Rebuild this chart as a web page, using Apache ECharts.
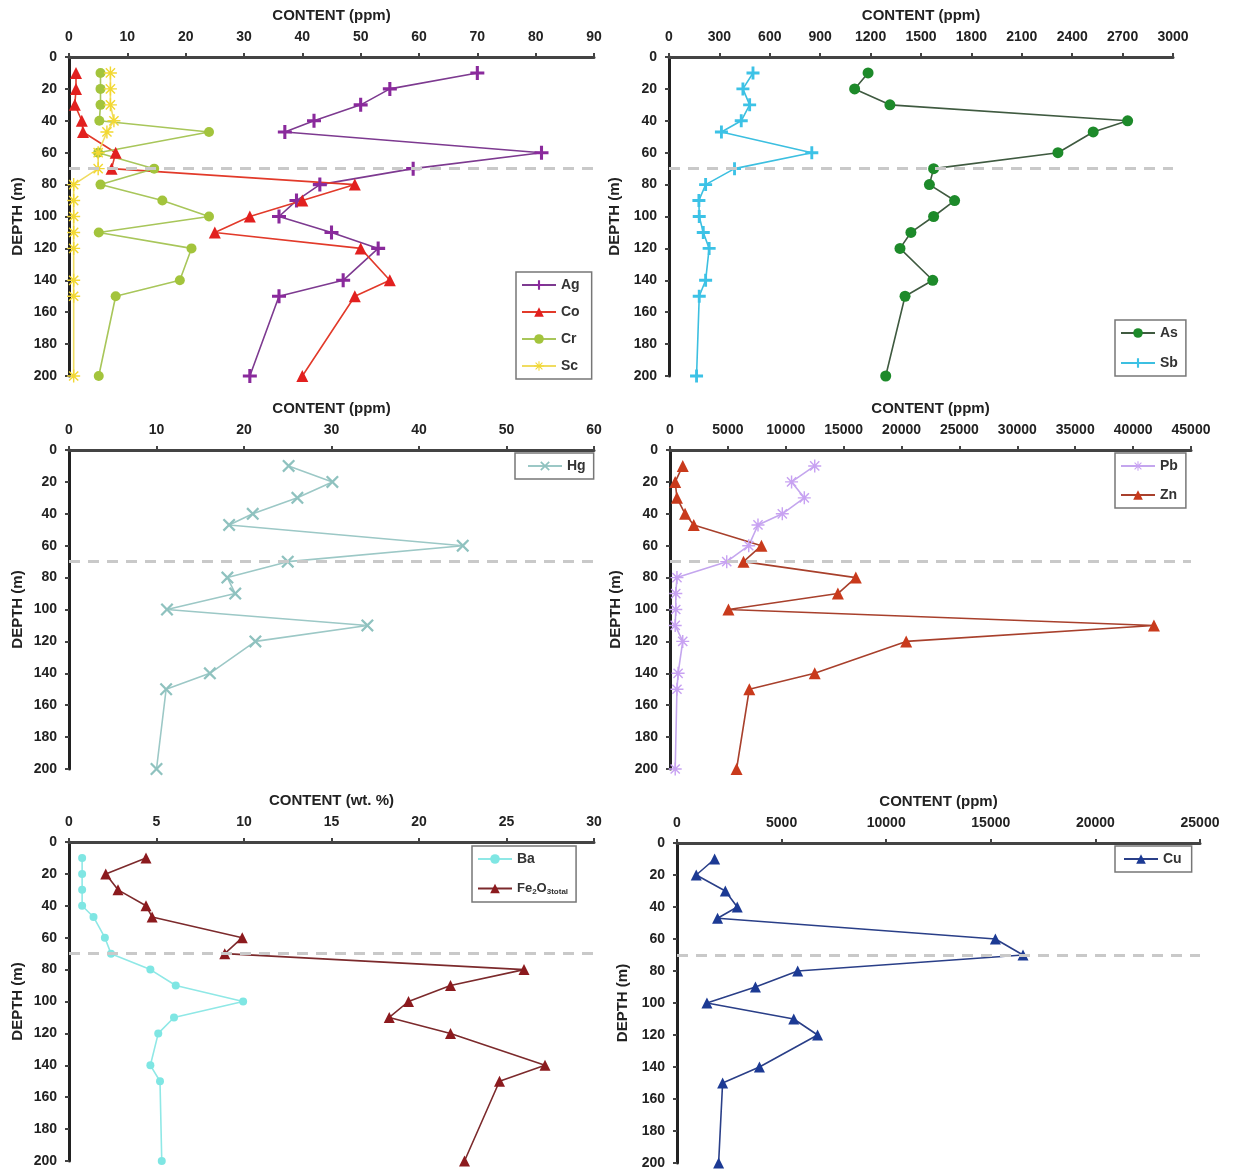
<!DOCTYPE html>
<html>
<head>
<meta charset="utf-8">
<script src="https://cdn.jsdelivr.net/npm/echarts@6/dist/echarts.min.js"></script>
<style>
html,body{margin:0;padding:0;background:#fff;}
#chart{width:1234px;height:1170px;}
</style>
</head>
<body>
<div id="chart"></div>
<script>
// ---- data (depth in m, content values) ----
const depths = [10, 20, 30, 40, 47, 60, 70, 80, 90, 100, 110, 120, 140, 150, 200];
const boundaryDepth = 70;

const ag = [70, 55, 50, 42, 37, 81, 59, 43, 39, 36, 45, 53, 47, 36, 31];
const co = [1.2, 1.2, 1, 2.2, 2.4, 8, 7.3, 49, 40, 31, 25, 50, 55, 49, 40];
const cr = [5.4, 5.4, 5.4, 5.2, 24, 5, 14.6, 5.4, 16, 24, 5.1, 21, 19, 8, 5.1];
const sc = [7.1, 7.1, 7.1, 7.7, 6.5, 5, 5, 0.8, 0.8, 0.8, 0.8, 0.8, 0.8, 0.8, 0.8];

const as = [1185, 1105, 1315, 2730, 2525, 2315, 1575, 1550, 1700, 1575, 1440, 1375, 1570, 1405, 1290];
const sb = [500, 440, 480, 430, 312, 850, 390, 218, 178, 180, 204, 239, 218, 180, 164];

const hg = [25.1, 30.1, 26.1, 21, 18.3, 45, 25, 18.1, 19, 11.2, 34.1, 21.3, 16.1, 11.1, 10];

const pb = [12500, 10500, 11600, 9700, 7600, 6800, 4900, 600, 500, 500, 450, 1100, 700, 600, 450];
const zn = [1100, 450, 600, 1300, 2050, 7900, 6350, 16050, 14500, 5050, 41800, 20400, 12500, 6850, 5750];

const ba = [0.75, 0.75, 0.75, 0.75, 1.4, 2.05, 2.4, 4.65, 6.1, 9.95, 6.0, 5.1, 4.65, 5.2, 5.3];
const fe = [4.4, 2.1, 2.8, 4.4, 4.75, 9.9, 8.9, 26, 21.8, 19.4, 18.3, 21.8, 27.2, 24.6, 22.6];

const cu = [1800, 920, 2310, 2880, 1940, 15220, 16540, 5770, 3750, 1430, 5580, 6720, 3940, 2180, 1990];

// axis ranges per panel: [max, interval]
const xRanges = [[90, 10], [3000, 300], [60, 10], [45000, 5000], [30, 5], [25000, 5000]];
const xTitles = ['CONTENT (ppm)', 'CONTENT (ppm)', 'CONTENT (ppm)', 'CONTENT (ppm)', 'CONTENT (wt. %)', 'CONTENT (ppm)'];
const depthMax = 200, depthStep = 20;

// ---- styling helpers ----
const FONT = "'Liberation Sans', Arial, sans-serif";
function starPath(arms, rotDeg, w, R) {
  const pts = [];
  const r = w / Math.sin(Math.PI / arms);
  for (let k = 0; k < arms; k++) {
    const a = (rotDeg + k * 360 / arms) * Math.PI / 180;
    const dx = Math.cos(a), dy = Math.sin(a);
    const px = -dy, py = dx;
    pts.push([R * dx - w * px, R * dy - w * py]);
    pts.push([R * dx + w * px, R * dy + w * py]);
    const b = a + Math.PI / arms;
    pts.push([r * Math.cos(b), r * Math.sin(b)]);
  }
  return 'path://' + pts.map((p, i) => (i ? 'L' : 'M') + p[0].toFixed(3) + ',' + p[1].toFixed(3)).join(' ') + ' Z';
}
const PLUS = starPath(4, 0, 1.1, 5);
const XMARK = starPath(4, 45, 0.7, 5);
const ASTER = starPath(8, 0, 0.55, 5);

const grids = [
  {left: 69, top: 57, width: 525, height: 319},
  {left: 669, top: 57, width: 504, height: 319},
  {left: 69, top: 450, width: 525, height: 319},
  {left: 670, top: 450, width: 521, height: 319},
  {left: 69, top: 842, width: 525, height: 319},
  {left: 677, top: 843, width: 523, height: 320}
];

const xAxes = grids.map((g, i) => ({
  type: 'value', gridIndex: i, position: 'top',
  min: 0, max: xRanges[i][0], interval: xRanges[i][1],
  name: xTitles[i], nameLocation: 'middle', nameGap: 34,
  nameTextStyle: {fontFamily: FONT, fontWeight: 'bold', fontSize: 15, color: '#222'},
  axisLine: {show: true, lineStyle: {color: '#444', width: 3}},
  axisTick: {show: true, length: 4, lineStyle: {color: '#444', width: 2}},
  axisLabel: {fontFamily: FONT, fontWeight: 'bold', fontSize: 14, color: '#222', margin: 13,
    formatter: function (v) { return String(v); }},
  splitLine: {show: false}
}));
const yAxes = grids.map((g, i) => ({
  type: 'value', gridIndex: i, inverse: true,
  min: 0, max: depthMax, interval: depthStep,
  name: 'DEPTH (m)', nameLocation: 'middle', nameRotate: 90, nameGap: (i % 2 ? 47 : 44),
  nameTextStyle: {fontFamily: FONT, fontWeight: 'bold', fontSize: 15, color: '#222'},
  axisLine: {show: true, onZero: false, lineStyle: {color: '#222', width: 3}},
  axisTick: {show: true, length: 4, lineStyle: {color: '#444', width: 2}},
  axisLabel: {fontFamily: FONT, fontWeight: 'bold', fontSize: 14, color: '#222', margin: 12},
  splitLine: {show: false}
}));

function pairs(vals) { return vals.map((v, k) => [v, depths[k]]); }
function mk(name, vals, idx, color, lineColor, symbol, size, extra) {
  return Object.assign({
    name: name, type: 'line', xAxisIndex: idx, yAxisIndex: idx,
    data: pairs(vals), symbol: symbol, symbolSize: size, showSymbol: true,
    itemStyle: {color: color},
    lineStyle: {color: lineColor, width: 1.6},
    animation: false, z: 3
  }, extra || {});
}
function boundary() {
  return {
    silent: true, symbol: ['none', 'none'], label: {show: false},
    lineStyle: {color: '#c9c9c9', width: 3, type: [11, 8]},
    data: [{yAxis: boundaryDepth}]
  };
}

const series = [
  mk('Ag', ag, 0, '#8a2a9c', '#7d3a90', PLUS, 14, {markLine: boundary()}),
  mk('Co', co, 0, '#e2201f', '#e23a2a', 'triangle', 12),
  mk('Cr', cr, 0, '#a3c43c', '#a8c65a', 'circle', 10),
  mk('Sc', sc, 0, '#f2d832', '#f0dc60', ASTER, 13),
  mk('As', as, 1, '#1d8a2a', '#3f5a40', 'circle', 11, {markLine: boundary()}),
  mk('Sb', sb, 1, '#3cc2e6', '#3cbfe0', PLUS, 13),
  mk('Hg', hg, 2, '#8fc2bf', '#9cc8c6', XMARK, 13, {markLine: boundary()}),
  mk('Pb', pb, 3, '#c8a2f2', '#c4a6ee', ASTER, 13, {markLine: boundary()}),
  mk('Zn', zn, 3, '#c93a1c', '#a8402c', 'triangle', 12),
  mk('Ba', ba, 4, '#7fe6e3', '#8fe8e6', 'circle', 8, {markLine: boundary()}),
  mk('Fe2O3total', fe, 4, '#8c1a1e', '#7c2a2c', 'triangle', 11),
  mk('Cu', cu, 5, '#1c3a94', '#2a3f88', 'triangle', 11, {markLine: boundary()})
];

const legendBase = {
  orient: 'vertical', backgroundColor: '#fff',
  borderColor: '#777', borderWidth: 1.5, borderRadius: 0,
  padding: [6, 8, 6, 5], itemWidth: 34, itemHeight: 12, itemGap: 13,
  textStyle: {fontFamily: FONT, fontWeight: 'bold', fontSize: 14, color: '#333',
    rich: {
      n: {fontFamily: FONT, fontWeight: 'bold', fontSize: 13, color: '#333'},
      s: {fontFamily: FONT, fontWeight: 'bold', fontSize: 8, color: '#333', padding: [7, 0, 0, 0]}
    }},
  formatter: function (n) { return n === 'Fe2O3total' ? '{n|Fe}{s|2}{n|O}{s|3total}' : n; }
};
const legends = [
  Object.assign({}, legendBase, {left: 516, top: 272, data: ['Ag', 'Co', 'Cr', 'Sc'], padding: [6, 12, 6, 5]}),
  Object.assign({}, legendBase, {left: 1115, top: 320, data: ['As', 'Sb'], itemGap: 16}),
  Object.assign({}, legendBase, {left: 515, top: 453, data: ['Hg'], padding: [6, 8, 6, 12]}),
  Object.assign({}, legendBase, {left: 1115, top: 453, data: ['Pb', 'Zn'], itemGap: 15}),
  Object.assign({}, legendBase, {left: 472, top: 846, data: ['Ba', 'Fe2O3total'], itemGap: 16}),
  Object.assign({}, legendBase, {left: 1115, top: 846, data: ['Cu'], padding: [6, 10, 6, 8]})
];

const chart = echarts.init(document.getElementById('chart'), null, {renderer: 'canvas'});
chart.setOption({
  backgroundColor: '#fff',
  animation: false,
  grid: grids,
  xAxis: xAxes,
  yAxis: yAxes,
  legend: legends,
  series: series
});
</script>
</body>
</html>
